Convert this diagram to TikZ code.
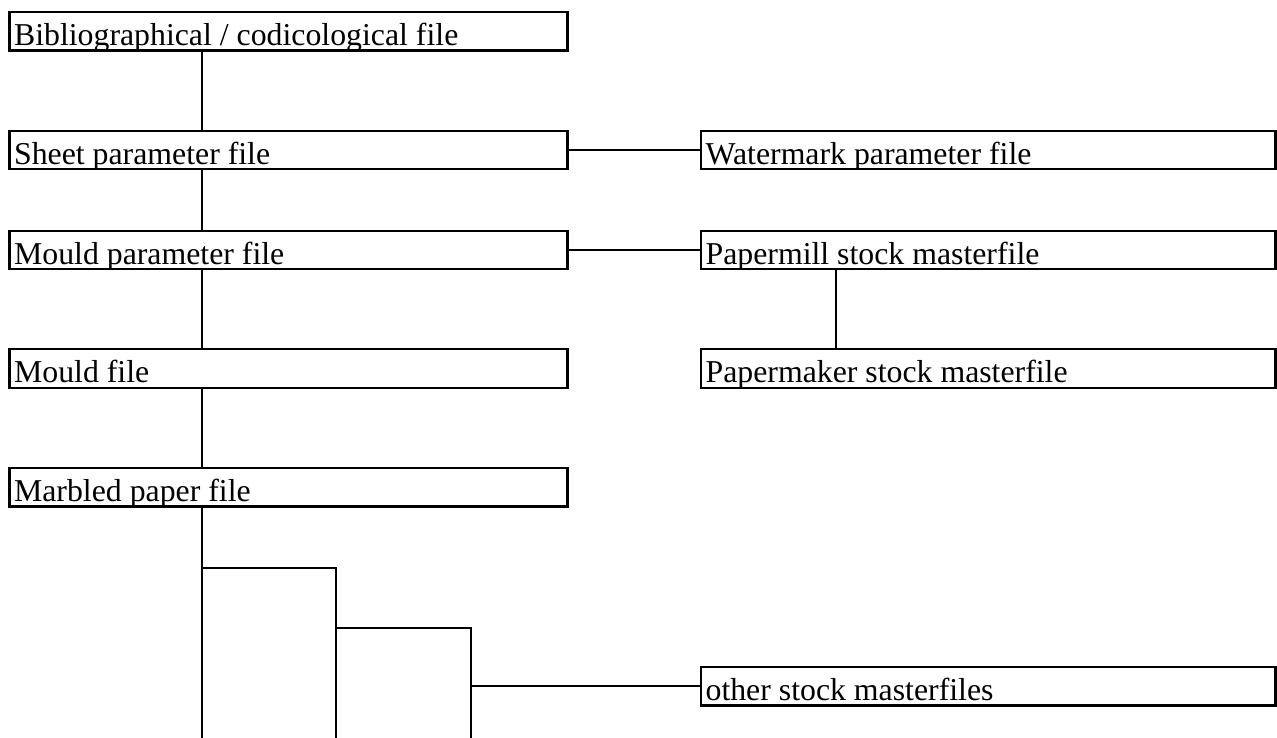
\documentclass[tikz,border=0pt]{standalone}
\usepackage{fontspec}
\setmainfont{Liberation Serif}
\begin{document}
\begin{tikzpicture}[x=1pt,y=-1pt,
  filebox/.style={draw, line width=2.2pt, rectangle, inner sep=0pt, minimum height=38.5pt},
  leftbox/.style={filebox, minimum width=558pt},
  rightbox/.style={filebox, minimum width=574.5pt},
  lbl/.style={path picture={\node[draw=none, minimum width=0pt, minimum height=0pt, anchor=base west, inner sep=0pt, font=\fontsize{31.8}{36}\selectfont] at ([xshift=3.5pt,yshift=5pt]path picture bounding box.south west) {#1};}},
  conn/.style={line width=2pt}]
\useasboundingbox (0,0) rectangle (1277,738);

% left column
\node[leftbox, lbl={Bibliographical / codicological file}] (bib) at (288.5,31.25) {};
\node[leftbox, lbl={Sheet parameter file}] (sheet) at (288.5,150) {};
\node[leftbox, lbl={Mould parameter file}] (mouldpar) at (288.5,250) {};
\node[leftbox, lbl={Mould file}] (mould) at (288.5,368.5) {};
\node[leftbox, lbl={Marbled paper file}] (marbled) at (288.5,487.25) {};

% right column
\node[rightbox, lbl={Watermark parameter file}] (watermark) at (988.25,150) {};
\node[rightbox, lbl={Papermill stock masterfile}] (papermill) at (988.25,250) {};
\node[rightbox, lbl={Papermaker stock masterfile}] (papermaker) at (988.25,368.5) {};
\node[rightbox, lbl={other stock masterfiles}] (other) at (988.25,686.25) {};

% helper coordinates
\coordinate (trunk) at (202,0);
\coordinate (pm) at (836,0);
\coordinate (bottom) at (0,738);
\coordinate (b1) at (336,567.5);
\coordinate (b2) at (471,627.5);

% trunk connectors
\draw[conn] (trunk |- bib.south) -- (trunk |- sheet.north);
\draw[conn] (trunk |- sheet.south) -- (trunk |- mouldpar.north);
\draw[conn] (trunk |- mouldpar.south) -- (trunk |- mould.north);
\draw[conn] (trunk |- mould.south) -- (trunk |- marbled.north);
\draw[conn] (trunk |- marbled.south) -- (trunk |- bottom);

% side connectors
\draw[conn] (sheet.east) -- (watermark.west);
\draw[conn] (mouldpar.east) -- (papermill.west);
\draw[conn] (pm |- papermill.south) -- (pm |- papermaker.north);

% branches
\draw[conn] (trunk |- b1) -- (b1) -- (b1 |- bottom);
\draw[conn] (b1 |- b2) -- (b2) -- (b2 |- bottom);
\draw[conn] (b2 |- other.west) -- (other.west);
\end{tikzpicture}
\end{document}
